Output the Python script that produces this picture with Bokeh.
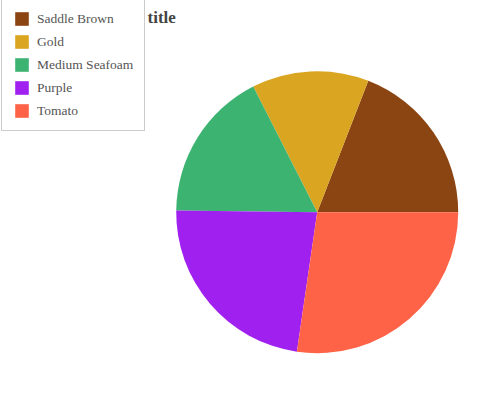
import numpy as np
from bokeh.plotting import figure
from bokeh.models import Range1d, Legend, LegendItem, Label
from bokeh.embed import file_html
from bokeh.resources import INLINE

categories = ["Saddle Brown", "Gold", "Medium Seafoam", "Purple", "Tomato"]
values = [19.1, 13.4, 17.3, 22.9, 27.3]
colors = ["#8B4513", "#DAA520", "#3CB371", "#A020F0", "#FF6347"]

W, H = 496, 400
p = figure(width=W, height=H, output_backend="svg", toolbar_location=None,
           x_range=Range1d(0, W), y_range=Range1d(0, H), min_border=0)
p.axis.visible = False
p.grid.visible = False
p.outline_line_color = None
p.background_fill_color = "white"
p.border_fill_color = "white"

vals = np.array(values, dtype=float)
fr = vals / vals.sum()
ends = np.cumsum(fr) * 2 * np.pi
starts = np.concatenate([[0.0], ends[:-1]])

cx, cy, r = 316.7, H - 211.7, 141
renderers = []
for i in range(len(categories)):
    rr = p.wedge(x=cx, y=cy, radius=r, start_angle=starts[i], end_angle=ends[i],
                 fill_color=colors[i], line_color=None, direction="anticlock")
    renderers.append(rr)

FONT = "Liberation Serif"
p.add_layout(Label(x=147, y=H - 17, text="title", text_font=FONT,
                   text_font_style="bold", text_font_size="17px", text_color="#444444",
                   text_baseline="middle", text_align="left"))

items = [LegendItem(label=categories[i], renderers=[renderers[i]]) for i in range(len(categories))]
legend = Legend(items=items, location=(1, H - 131), padding=11, spacing=6,
                glyph_width=17, glyph_height=17, label_standoff=7, margin=0,
                label_text_font=FONT, label_text_font_size="13.5px",
                label_text_color="#555555", label_height=17,
                border_line_color="#999999", border_line_width=1.5,
                background_fill_color="white", background_fill_alpha=1.0)
p.add_layout(legend, "center")

open("out.html", "w").write(file_html(p, INLINE))
